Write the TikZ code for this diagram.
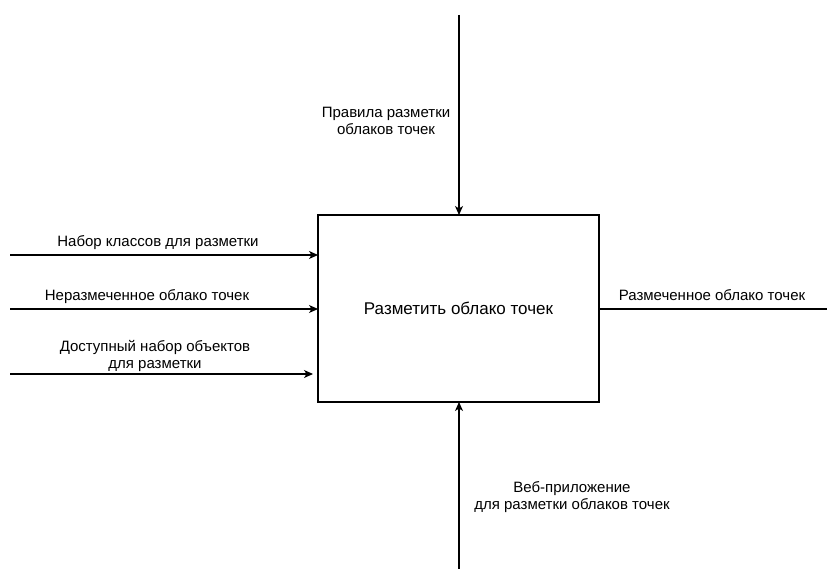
\documentclass[tikz,border=0pt]{standalone}
\usepackage{fontspec}
\setmainfont{Liberation Sans}
\usetikzlibrary{arrows.meta}
\begin{document}
\begin{tikzpicture}[x=1pt,y=-1pt,
  conn/.style={line width=1.1pt,-{Stealth[length=9pt,width=8pt,inset=2.5pt]}},
  plain/.style={line width=1.1pt},
  lbl/.style={font=\fontsize{15}{16.5}\selectfont,align=center,inner sep=0pt},
  proc/.style={draw,line width=1.1pt,minimum width=281pt,minimum height=187pt,inner sep=0pt,font=\fontsize{17}{20}\selectfont}]
\useasboundingbox (0,0) rectangle (827,569);
\node[proc] (box) at (458.5,308.5) {Разметить облако точек};
\coordinate (in1s) at (10,255);
\coordinate (in1e) at (318,255);
\coordinate (in2s) at (10,309);
\coordinate (in2e) at (318,309);
\coordinate (in3s) at (10,374);
\coordinate (in3e) at (313,374);
\coordinate (ctls) at (459,15);
\coordinate (ctle) at (459,215);
\coordinate (mecs) at (459,569);
\coordinate (mece) at (459,402);
\coordinate (outs) at (599,309);
\coordinate (oute) at (827,309);
\draw[conn] (in1s) -- (in1e);
\draw[conn] (in2s) -- (in2e);
\draw[conn] (in3s) -- (in3e);
\draw[conn] (ctls) -- (ctle);
\draw[conn] (mecs) -- (mece);
\draw[plain] (outs) -- (oute);
\node[lbl] (t1) at (158,243) {Набор классов для разметки};
\node[lbl] (t2) at (147,297) {Неразмеченное облако точек};
\node[lbl] (t3) at (155,356) {Доступный набор объектов\\для разметки};
\node[lbl] (t4) at (386,121) {Правила разметки\\облаков точек};
\node[lbl] (t5) at (572,497) {Веб-приложение\\для разметки облаков точек};
\node[lbl] (t6) at (712,295) {Размеченное облако точек};
\end{tikzpicture}
\end{document}
